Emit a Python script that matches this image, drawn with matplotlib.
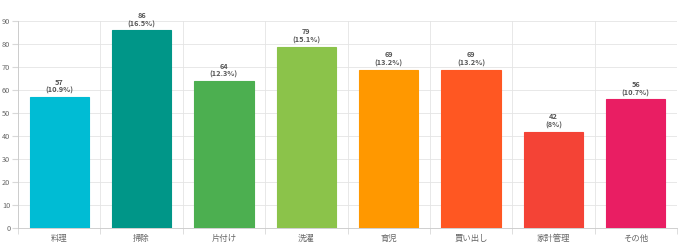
import numpy as np
import matplotlib.pyplot as plt

plt.rcParams['font.family'] = ['Noto Sans CJK JP', 'DejaVu Sans']

## data
categories = ['料理', '掃除', '片付け', '洗濯', '育児', '買い出し', '家計管理', 'その他']
counts = [57, 86, 64, 79, 69, 69, 42, 56]
percent_labels = ['10.9%', '16.5%', '12.3%', '15.1%', '13.2%', '13.2%', '8%', '10.7%']
colors = ['#00BCD4', '#009688', '#4CAF50', '#8BC34A', '#FF9800', '#FF5722', '#F44336', '#E91E63']
y_ticks = list(range(0, 91, 10))

fig = plt.figure(figsize=(6.8, 2.47), dpi=100)
ax = fig.add_axes([18 / 680, 1 - 228 / 247, 659 / 680, (228 - 21.3) / 247])

x = np.arange(len(categories))
ax.bar(x, counts, width=0.72, color=colors, edgecolor=colors, linewidth=0.8, zorder=2)

# value + percent labels above each bar
for xi, c, p in zip(x, counts, percent_labels):
    ax.annotate(f"{c}\n({p})", xy=(xi, c), xytext=(0, 2), textcoords='offset points',
                ha='center', va='bottom', fontsize=5.3, color='#555555',
                fontweight='bold', linespacing=1.15)

ax.set_xlim(-0.5, len(categories) - 0.5)
ax.set_ylim(0, 90)
ax.set_yticks(y_ticks)
ax.tick_params(axis='y', labelsize=5.3, labelcolor='#666666', color='#d8d8d8', length=4, pad=1.5)

# grid lines between categories, labels at centres
ax.set_xticks(x)
ax.set_xticklabels(categories)
ax.set_xticks(np.arange(-0.5, len(categories)), minor=True)
ax.tick_params(axis='x', which='major', length=0, labelsize=6, labelcolor='#666666', pad=4.5)
ax.tick_params(axis='x', which='minor', length=4, color='#d8d8d8')
ax.grid(True, axis='y', color='#e4e4e4', linewidth=0.6, zorder=0)
ax.grid(True, axis='x', which='minor', color='#e4e4e4', linewidth=0.6, zorder=0)

for side in ['top', 'right']:
    ax.spines[side].set_visible(False)
ax.spines['left'].set_color('#c8c8c8')
ax.spines['bottom'].set_color('#c8c8c8')
ax.spines['left'].set_linewidth(0.6)
ax.spines['bottom'].set_linewidth(0.6)

fig.savefig('out.png', dpi=100)
